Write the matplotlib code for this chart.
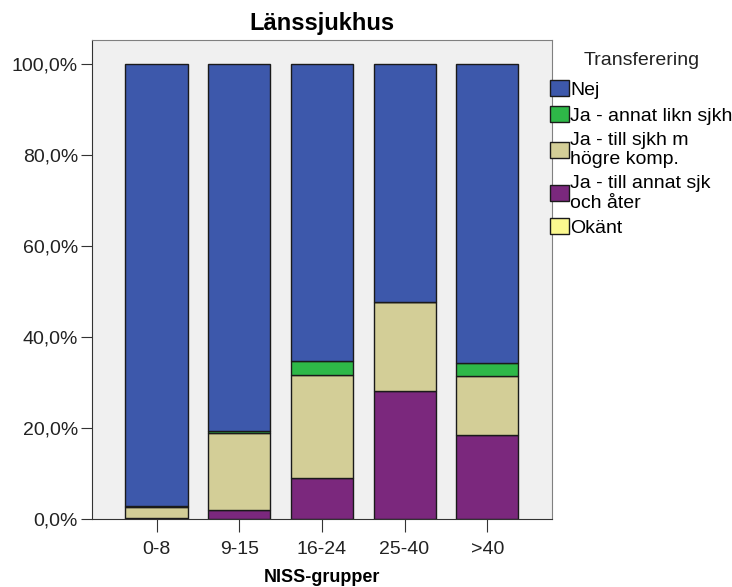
import matplotlib.pyplot as plt
import numpy as np
from matplotlib.ticker import FuncFormatter

plt.rcParams['font.family'] = ['Liberation Sans', 'DejaVu Sans']

# Data (percent within each NISS group)
groups = ['0-8', '9-15', '16-24', '25-40', '>40']
series_names = ['Nej', 'Ja - annat likn sjkh', 'Ja - till sjkh m\nhögre komp.',
                'Ja - till annat sjk\noch åter', 'Okänt']
okant = [0.0, 0.0, 0.0, 0.0, 0.0]
till_annat = [0.3, 2.0, 9.0, 28.1, 18.5]
hogre_komp = [2.3, 16.9, 22.6, 19.6, 13.0]
annat_likn = [0.2, 0.4, 3.2, 0.0, 2.8]
nej = [97.2, 80.7, 65.2, 52.3, 65.7]

colors = {'Nej': '#3d58ab', 'annat': '#2eb848', 'hogre': '#d3ce97',
          'till': '#7b287d', 'okant': '#fbf88f'}

fig = plt.figure(figsize=(7.32, 5.87), dpi=100, facecolor='white')
ax = fig.add_axes([0.1257, 0.1158, 0.628, 0.816], facecolor='#f0f0f0')

x = np.arange(len(groups))
width = 0.75
stack = [(okant, colors['okant']), (till_annat, colors['till']),
         (hogre_komp, colors['hogre']), (annat_likn, colors['annat']),
         (nej, colors['Nej'])]
bottom = np.zeros(len(groups))
bars = []
for vals, c in stack:
    b = ax.bar(x, vals, width, bottom=bottom, color=c, edgecolor='#1a1a1a', linewidth=1.0)
    bars.append(b)
    bottom += np.array(vals)

ax.set_xlim(-0.78, 4.78)
ax.set_ylim(0, 105.3)
ax.set_yticks([0, 20, 40, 60, 80, 100])
ax.yaxis.set_major_formatter(FuncFormatter(lambda v, p: f'{v:.1f}%'.replace('.', ',')))
ax.set_xticks(x)
ax.set_xticklabels(groups)
ax.tick_params(axis='both', labelsize=14, labelcolor='#222222', color='#333333',
               direction='out')
ax.tick_params(axis='x', length=9, pad=7)
ax.tick_params(axis='y', length=8, pad=2)

for s in ['top', 'right']:
    ax.spines[s].set_color('#808080')
for s in ['left', 'bottom']:
    ax.spines[s].set_color('#333333')

ax.set_title('Länssjukhus', fontsize=17, fontweight='bold', pad=7)
ax.set_xlabel('NISS-grupper', fontsize=13, fontweight='bold', labelpad=8)

# legend order: Nej, annat likn, högre komp, till annat, okänt
handles = [bars[4], bars[3], bars[2], bars[1], bars[0]]
leg = fig.legend(handles, series_names, title='Transferering', loc='upper left',
                 bbox_to_anchor=(0.752, 0.911), frameon=False, fontsize=14,
                 title_fontsize=14, handlelength=0.93, handleheight=0.9,
                 handletextpad=0.1, labelspacing=0.35, borderaxespad=0,
                 borderpad=0)
leg.get_title().set_color('#222222')
leg._legend_box.sep = 8

fig.savefig('out.png', dpi=100)
